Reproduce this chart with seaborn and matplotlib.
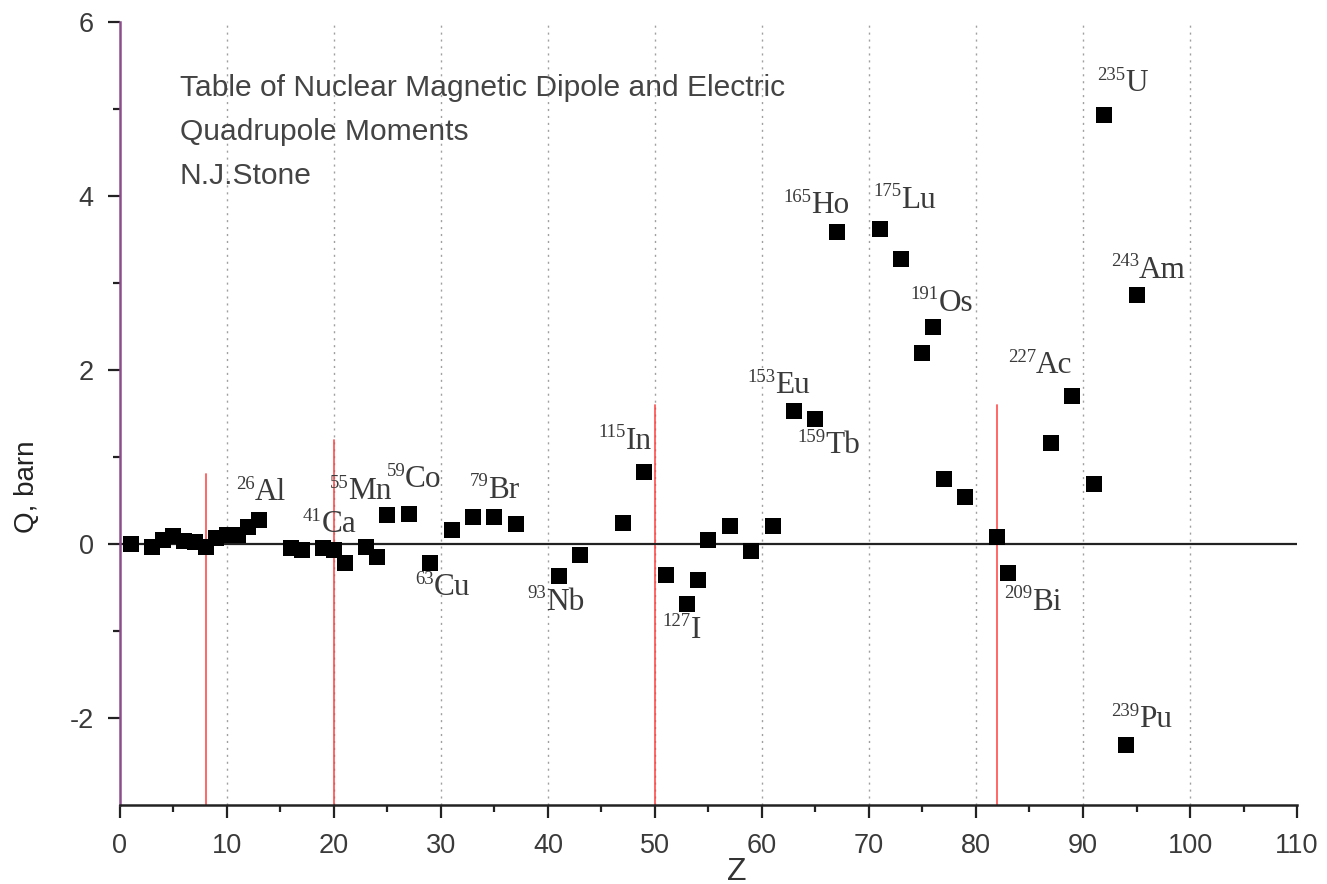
import numpy as np
import pandas as pd
import matplotlib
matplotlib.use("Agg")
import matplotlib.pyplot as plt
import seaborn as sns

# ---- data ----
z_values = [1, 3, 4, 5, 6, 7, 8, 9, 10, 11, 12, 13,
            16, 17, 19, 20, 21, 23, 24, 25, 27, 29,
            31, 33, 35, 37, 41, 43, 47, 49, 51, 53, 54, 55, 57, 59, 61,
            63, 65, 67, 71, 73, 75, 76, 77, 79, 82, 83,
            87, 89, 91, 92, 94, 95]
q_values = [0.00, -0.04, 0.05, 0.09, 0.03, 0.02, -0.03, 0.07, 0.10, 0.10, 0.20, 0.28,
            -0.05, -0.07, -0.05, -0.07, -0.22, -0.03, -0.15, 0.33, 0.34, -0.22,
            0.16, 0.31, 0.31, 0.23, -0.37, -0.13, 0.24, 0.83, -0.36, -0.69, -0.41, 0.05, 0.21, -0.08, 0.21,
            1.53, 1.44, 3.59, 3.62, 3.28, 2.20, 2.50, 0.75, 0.54, 0.08, -0.33,
            1.16, 1.70, 0.69, 4.93, -2.31, 2.86]

label_mass = ["26", "41", "55", "59", "63", "79", "93", "115", "127", "153", "159",
              "165", "175", "191", "209", "227", "235", "243", "239"]
label_elem = ["Al", "Ca", "Mn", "Co", "Cu", "Br", "Nb", "In", "I", "Eu", "Tb",
              "Ho", "Lu", "Os", "Bi", "Ac", "U", "Am", "Pu"]
label_z = [10.85, 17.1, 19.6, 24.9, 27.6, 32.7, 38.1, 44.7, 50.7, 58.6, 63.3,
           62.0, 70.4, 73.9, 82.6, 83.0, 91.3, 92.6, 92.6]
label_q = [0.59, 0.22, 0.60, 0.74, -0.50, 0.62, -0.67, 1.18, -0.99, 1.82, 1.13,
           3.89, 3.95, 2.77, -0.67, 2.05, 5.29, 3.15, -2.02]

magic_z = [8, 20, 50, 82]
magic_top = [0.8, 1.2, 1.6, 1.6]

title_lines = ["Table of Nuclear Magnetic Dipole and Electric",
               "Quadrupole Moments",
               "N.J.Stone"]

df = pd.DataFrame({"Z": z_values, "Q": q_values})

# ---- style ----
sns.set_style("ticks")
plt.rcParams["font.family"] = ["Liberation Sans", "DejaVu Sans"]
plt.rcParams["axes.unicode_minus"] = False

fig = plt.figure(figsize=(13.27, 8.84), dpi=100)
ax = fig.add_axes([0.0904, 0.0894, 0.887, 0.8856])

ax.set_xlim(0, 110)
ax.set_ylim(-3, 6)

# dotted vertical grid
for gx in range(10, 101, 10):
    ax.axvline(gx, color="#a0a0a0", lw=1.0, ls=(0, (1.5, 3.5)), zorder=0)

# magic number lines
for mz, mt in zip(magic_z, magic_top):
    ax.plot([mz, mz], [-3, mt], color="#ff4040", lw=1.3, alpha=0.85, zorder=1)

# zero line
ax.plot([0, 110], [0, 0], color="#222222", lw=1.6, zorder=2)

sns.scatterplot(data=df, x="Z", y="Q", marker="s", s=132, color="black",
                edgecolor="black", linewidth=0, ax=ax, zorder=3, legend=False)

serif = ["Liberation Serif", "DejaVu Serif"]
for m, el, lx, ly in zip(label_mass, label_elem, label_z, label_q):
    sup = ax.text(lx, ly, m, fontsize=13.5, color="#3a3a3a", family=serif,
                  va="bottom", ha="left", zorder=4)
    ax.annotate(el, xy=(1.0, 0.0), xycoords=sup, fontsize=22.5, color="#3a3a3a",
                family=serif, va="center", ha="left", zorder=4)

for i, line in enumerate(title_lines):
    ax.text(5.6, 5.24 - i * 0.506, line, fontsize=21.6, color="#444444",
            va="center", ha="left")

# axes styling
sns.despine(ax=ax, top=True, right=True)
ax.spines["left"].set_color("#8a4f8a")
ax.spines["left"].set_linewidth(1.8)
ax.spines["bottom"].set_color("#222222")
ax.spines["bottom"].set_linewidth(1.8)

ax.set_xticks(np.arange(0, 111, 10))
ax.set_xticks(np.arange(5, 110, 10), minor=True)
ax.set_yticks([-2, 0, 2, 4, 6])
ax.set_yticks([-1, 1, 3, 5], minor=True)
ax.tick_params(axis="both", which="major", direction="out", length=9, width=1.6,
               labelsize=19.5, colors="#222222", labelcolor="#3a3a3a")
ax.tick_params(axis="x", which="major", pad=11)
ax.tick_params(axis="y", which="major", pad=10)
ax.tick_params(axis="both", which="minor", direction="out", length=5, width=1.6,
               colors="#222222")

ax.set_xlabel("Z", fontsize=23, color="#333333")
ax.xaxis.set_label_coords(0.524, -0.066)
ax.set_ylabel("Q, barn", fontsize=20, color="#222222")
ax.yaxis.set_label_coords(-0.068, 0.407)

fig.savefig("out.png", dpi=100)
